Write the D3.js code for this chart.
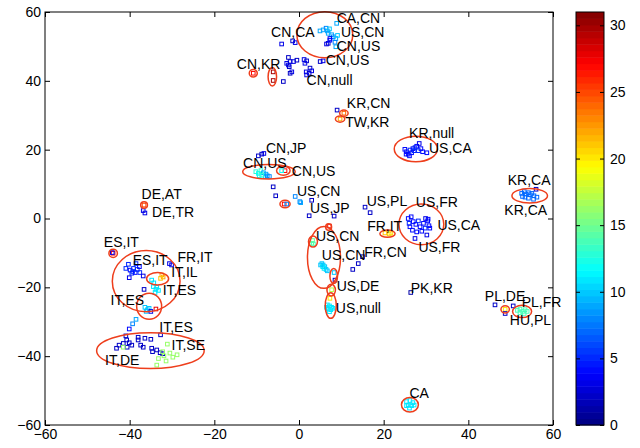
<!DOCTYPE html>
<html><head><meta charset="utf-8">
<script src="https://cdn.jsdelivr.net/npm/d3@7"></script>
<style>body{margin:0;background:#fff}text{font-family:"Liberation Sans",Arial,sans-serif}</style>
</head><body><svg id="c" width="640" height="448"></svg>
<script>
// ---- data: [x, y, colour value] ----
const topCluster = [
 [4.96,54.5,9],[5.7,54.8,9],[6.4,55.3,8],[6.7,54.5,9],[7.2,55.1,10],[6.9,53.8,9],[7.7,53.4,9],[8.1,52.8,8],[8.7,52.3,9],[9.1,53.2,10],[8.9,56.7,9],[8.5,51.2,8],[8.7,49.9,9],
 [7.3,52.3,3],[6.9,50.9,2],[6.5,50.7,3],[-4.1,50.7,3],[-1.5,51.6,2],[-0.9,51.1,3],[-2.5,46.8,2],[-2.9,45.1,3],[-2.1,45.6,2],[-1.3,45.6,3],[-2.3,44.1,2],[-1.7,42.6,3],
 [-0.5,46.0,2],[1.2,46.2,3],[1.8,45.8,2],[1.4,45.1,3],[2.6,43.7,2],[1.7,42.6,3],[2.4,42.2,2],[3.0,42.9,3],[5.0,45.6,2],[5.7,45.8,3],[-3.7,39.8,2],[7.3,51.8,4],[-2.5,44.6,3],[-2.1,42.2,2],[1.8,41.7,3]
];
const krCluster = [
 [-10.8,42.2,27],[-6.1,42.6,30],[-6.1,40.1,30],[9.0,31.5,2],[10.6,30.6,24],[9.7,28.9,22]
];
const krNull = [
 [25.0,20.1,4],[25.4,19.4,4],[26.2,19.9,5],[25.8,18.7,4],[26.9,20.3,4],[27.4,20.6,5],[27.8,21.0,4],[28.4,21.8,3],[28.8,20.3,4],[28.2,19.7,5],[29.2,19.4,4],[30.2,19.1,4],[26.6,19.1,4],[27.2,19.7,5],[26.1,18.2,4],[25.3,18.7,4]
];
const cnUs = [
 [-9.6,18.2,2],[-8.8,18.7,2],[-8.3,18.9,3],
 [-10.2,13.6,13],[-9.6,13.1,12],[-9.0,13.9,13],[-8.4,13.3,9],[-7.8,12.9,9],[-7.5,12.4,8],[-7.0,12.2,8],[-8.0,12.2,9],[-9.4,12.4,12],[-8.8,12.6,13],
 [-3.3,13.9,27],[-4.1,13.9,12],[-6.1,9.2,2],[-5.5,6.6,2],[-3.5,4.2,27],[-2.9,4.2,8],
 [-0.9,6.4,8],[0.2,4.9,8],[0.4,4.6,9],[3.0,5.3,2],[2.4,0.8,2],[8.3,0.7,2],[15.6,3.3,2],[16.8,1.7,2]
];
const usFr = [
 [25.8,0.0,4],[26.5,0.5,4],[26.0,-1.4,5],[27.0,-0.9,4],[27.6,-1.7,4],[28.2,-0.7,5],[28.6,-2.4,4],[29.4,-1.4,4],[29.9,0.0,3],[30.4,-0.7,4],
 [30.7,-2.1,4],[29.8,-2.8,5],[30.9,-2.8,4],[29.0,-3.7,4],[27.8,-3.9,4],[26.8,-3.4,4],[30.2,-4.8,3],[27.4,-5.8,3],[30.5,-0.2,4],[26.2,-2.4,4],
 [20.3,-4.2,21],[21.3,-4.5,21],[21.7,-4.2,20]
];
const usCn = [
 [7.2,-2.2,27],[3.2,-6.4,15],[3.0,-7.2,15],[3.4,-7.4,14],
 [5.4,-13.1,10],[5.7,-13.5,10],[6.1,-14.0,10],[5.6,-14.0,11],[6.4,-14.8,10],[6.7,-15.2,10],[5.9,-14.5,11],[5.1,-13.5,10],
 [8.3,-15.7,10],[8.5,-17.9,2],[14.0,-13.1,2],[12.7,-14.8,2],[15.0,-11.1,2],
 [7.7,-20.7,17],[7.3,-23.2,20],
 [6.7,-25.1,11],[7.2,-25.4,11],[7.7,-25.8,11],[6.9,-26.3,11],[7.5,-26.5,11],[8.0,-26.1,11],[7.2,-27.1,11],[6.5,-25.8,11],
 [26.4,-21.5,1]
];
const europe = [
 [-36.6,3.9,25],[-36.8,2.3,3],[-36.4,1.6,3],
 [-43.9,-10.1,27],[-44.1,-9.9,3],
 [-40.3,-13.3,5],[-40.9,-14.5,5],[-39.9,-15.0,4],[-39.1,-14.5,5],[-39.5,-15.9,5],[-38.7,-15.7,4],[-38.2,-14.8,5],[-37.6,-15.7,5],[-40.1,-17.2,3],[-38.5,-13.1,5],[-37.7,-14.0,4],[-36.8,-16.7,3],[-39.3,-15.4,5],
 [-30.6,-13.1,3],[-30.1,-13.5,3],
 [-32.4,-16.4,22],[-32.1,-17.0,22],[-32.7,-17.4,21],[-34.8,-17.9,11],[-34.3,-18.7,11],
 [-34.4,-19.8,11],[-33.8,-20.6,11],[-33.2,-20.9,11],[-34.0,-21.5,11],[-33.6,-20.0,11],[-36.6,-20.6,2],
 [-36.4,-25.8,10],[-35.8,-26.5,10],[-35.4,-26.1,10],[-36.1,-27.0,10],[-33.8,-26.3,28],[-35.0,-27.0,3],
 [-38.5,-29.3,9],[-39.3,-30.6,8],[-40.1,-32.1,4]
];
const itDe = [
 [-40.9,-34.1,2],[-43.1,-37.7,2],[-42.5,-36.8,2],[-41.5,-36.3,2],[-40.7,-35.3,2],[-40.1,-36.1,2],[-39.5,-36.8,2],[-40.6,-37.4,2],[-38.0,-34.5,2],[-38.0,-35.3,2],
 [-36.4,-34.8,2],[-35.0,-35.1,2],[-32.7,-33.8,2],[-37.4,-36.8,2],[-36.8,-37.4,2],[-34.8,-37.7,2],[-33.6,-38.2,2],[-32.8,-39.0,2],[-32.2,-39.3,2],[-34.6,-38.7,2],
 [-41.5,-37.4,16],[-31.1,-36.5,16],[-32.2,-38.7,16],[-31.9,-39.9,16],[-30.5,-39.1,16],[-29.8,-40.3,16],[-28.8,-39.6,16],[-33.2,-40.7,16],[-33.6,-42.6,16],[-31.4,-41.4,16]
];
const eastCluster = [
 [52.6,7.3,7],[53.2,7.8,7],[53.6,7.1,7],[54.2,7.5,7],[54.6,6.9,7],[55.0,7.3,7],[55.5,6.6,7],[53.4,6.2,7],[54.2,5.9,7],[55.4,5.6,7],[56.2,6.2,7],[52.8,6.4,7],[56.0,8.5,2],
 [48.7,-26.4,20],[46.3,-25.1,2],[48.7,-27.6,2],[50.6,-25.4,2],
 [51.6,-26.7,14],[52.2,-26.3,14],[52.8,-27.0,14],[53.4,-26.5,14],[53.9,-27.0,14],[52.2,-27.4,14],[53.2,-27.6,14],
 [25.4,-53.2,11],[26.2,-52.9,11],[26.9,-53.5,11],[25.8,-54.2,11],[26.6,-54.4,11],[27.2,-54.2,11],[26.1,-55.1,11],[25.4,-54.4,11]
];
// ellipses: centre x, centre y, radius x, radius y (data units)
const ellCx = [6.1,-10.8,-6.3,10.6,9.7,27.6,-7.1,-3.7,-3.3,28.9,20.9,7.0,3.3,5.9,8.2,7.6,7.5,-36.6,-43.9,-36.1,-33.4,-35.4,-35.1,54.5,48.7,52.7,26.2];
const ellCy = [53.4,42.2,41.2,30.6,28.9,20.2,13.6,13.9,4.2,-1.7,-4.4,-2.5,-6.7,-11.3,-16.7,-20.8,-25.3,3.9,-10.1,-18.2,-17.5,-25.5,-38.4,6.6,-26.4,-27.0,-54.1];
const ellRx = [6.6,0.95,1.0,1.0,1.1,5.1,6.2,1.6,1.2,5.3,1.8,0.7,1.06,3.9,0.9,1.0,1.3,0.8,1.0,8.0,2.6,2.95,12.7,4.2,1.0,2.25,2.0];
const ellRy = [6.7,1.1,2.7,0.9,0.9,3.7,2.1,1.3,1.1,5.9,1.05,0.95,1.6,9.0,2.2,1.7,3.7,0.95,1.2,8.9,1.8,3.8,5.2,2.1,1.05,1.8,2.1];
// labels
const labelText = ["CA,CN","US,CN","CN,US","CN,CA","CN,US","CN,KR","CN,null","KR,CN","TW,KR","KR,null","US,CA","CN,JP","CN,US","CN,US","US,CN","US,JP","US,PL","US,FR","FR,IT","US,CN","US,CA","US,FR","US,CN","FR,CN","US,DE","PK,KR","US,null","ES,IT","ES,IT","FR,IT","IT,IL","IT,ES","IT,ES","IT,ES","IT,SE","IT,DE","DE,AT","DE,TR","KR,CA","KR,CA","PL,DE","PL,FR","HU,PL","CA"];
const labelX = [8.9,9.9,8.9,-6.6,6.3,-14.7,1.8,11.3,10.9,26.0,30.7,-7.8,-13.2,-1.7,-0.5,2.6,16.0,27.6,16.1,4.0,32.7,28.2,5.4,15.4,8.9,26.4,8.7,-46.1,-39.3,-28.7,-30.2,-32.2,-44.5,-33.0,-30.1,-45.8,-37.2,-34.7,49.3,48.5,43.9,52.6,49.8,26.1];
const labelY = [56.7,52.6,48.8,52.6,44.6,43.4,38.9,32.0,26.6,23.3,19.1,19.1,14.6,12.4,6.4,1.7,3.6,3.3,-3.6,-6.5,-3.4,-9.8,-12.0,-11.1,-21.2,-21.7,-27.4,-8.2,-13.5,-12.5,-16.9,-22.3,-25.1,-32.9,-38.2,-42.6,5.8,0.5,9.7,1.0,-23.9,-25.8,-31.0,-52.3];
const xTicks = [-60,-40,-20,0,20,40,60];
const yTicks = [-60,-40,-20,0,20,40,60];
const cTicks = [0,5,10,15,20,25,30];
const cMax = 31;

const points = [].concat(topCluster, krCluster, krNull, cnUs, usFr, usCn, europe, itDe, eastCluster);

// ---- drawing ----
const svg = d3.select("#c");
const L = 45, R = 553, T = 12, B = 425;
const x = d3.scaleLinear().domain([-60,60]).range([L,R]);
const y = d3.scaleLinear().domain([-60,60]).range([B,T]);
function jet(v){
  const c = t => Math.max(0, Math.min(1, t));
  const r = c(1.5 - Math.abs(4*v - 3)), g = c(1.5 - Math.abs(4*v - 2)), b = c(1.5 - Math.abs(4*v - 1));
  return d3.rgb(r*255, g*255, b*255).toString();
}
const nLev = 64;
const col = v => { const k = Math.min(nLev-1, Math.floor(v / cMax * nLev)); return jet((k + 0.5) / nLev); };

// points
svg.append("g").selectAll("rect").data(points).join("rect")
  .attr("x", d => x(d[0]) - 1.8).attr("y", d => y(d[1]) - 1.8)
  .attr("width", 3.6).attr("height", 3.6)
  .attr("fill", "none").attr("stroke", d => col(d[2])).attr("stroke-width", 1);

// ellipses
svg.append("g").selectAll("ellipse").data(ellCx).join("ellipse")
  .attr("cx", (d,i) => x(ellCx[i])).attr("cy", (d,i) => y(ellCy[i]))
  .attr("rx", (d,i) => x(ellRx[i]) - x(0)).attr("ry", (d,i) => y(0) - y(ellRy[i]))
  .attr("fill", "none").attr("stroke", "#ee3e1c").attr("stroke-width", 1.5);

// labels
svg.append("g").selectAll("text").data(labelText).join("text")
  .attr("x", (d,i) => x(labelX[i])).attr("y", (d,i) => y(labelY[i]))
  .attr("font-size", 14).attr("fill", "#000").text(d => d);

// axes
const fmt = d3.format("");
svg.append("g").attr("transform", `translate(0,${B})`)
  .call(d3.axisBottom(x).tickValues(xTicks).tickSize(-5).tickSizeOuter(0).tickPadding(4).tickFormat(fmt));
svg.append("g").attr("transform", `translate(0,${T})`)
  .call(d3.axisTop(x).tickValues(xTicks).tickSize(-5).tickSizeOuter(0).tickFormat(""));
svg.append("g").attr("transform", `translate(${L},0)`)
  .call(d3.axisLeft(y).tickValues(yTicks).tickSize(-5).tickSizeOuter(0).tickPadding(4).tickFormat(fmt));
svg.append("g").attr("transform", `translate(${R},0)`)
  .call(d3.axisRight(y).tickValues(yTicks).tickSize(-5).tickSizeOuter(0).tickFormat(""));
svg.selectAll(".domain").remove();
svg.selectAll(".tick line").attr("stroke", "#000");
svg.selectAll(".tick text").attr("font-size", 14).attr("fill", "#000").attr("font-family", "Liberation Sans, Arial, sans-serif");
svg.append("rect").attr("x", L).attr("y", T).attr("width", R-L).attr("height", B-T)
  .attr("fill", "none").attr("stroke", "#000").attr("stroke-width", 1);

// colorbar
const CL = 576, CR = 604;
const cy = d3.scaleLinear().domain([0,cMax]).range([B,T]);
const levels = d3.range(nLev);
svg.append("g").selectAll("rect").data(levels).join("rect")
  .attr("x", CL).attr("width", CR-CL)
  .attr("y", k => cy((k+1)*cMax/nLev)).attr("height", k => cy(k*cMax/nLev) - cy((k+1)*cMax/nLev) + 0.5)
  .attr("fill", k => jet((k+0.5)/nLev));
svg.append("g").attr("transform", `translate(${CR},0)`)
  .call(d3.axisRight(cy).tickValues(cTicks).tickSize(-4).tickSizeOuter(0).tickPadding(6).tickFormat(fmt));
svg.append("g").attr("transform", `translate(${CL},0)`)
  .call(d3.axisLeft(cy).tickValues(cTicks).tickSize(-4).tickSizeOuter(0).tickFormat(""));
svg.selectAll(".domain").remove();
svg.selectAll(".tick line").attr("stroke", "#000");
svg.selectAll(".tick text").attr("font-size", 14).attr("fill", "#000").attr("font-family", "Liberation Sans, Arial, sans-serif");
svg.append("rect").attr("x", CL).attr("y", T).attr("width", CR-CL).attr("height", B-T)
  .attr("fill", "none").attr("stroke", "#000").attr("stroke-width", 1);
</script></body></html>
